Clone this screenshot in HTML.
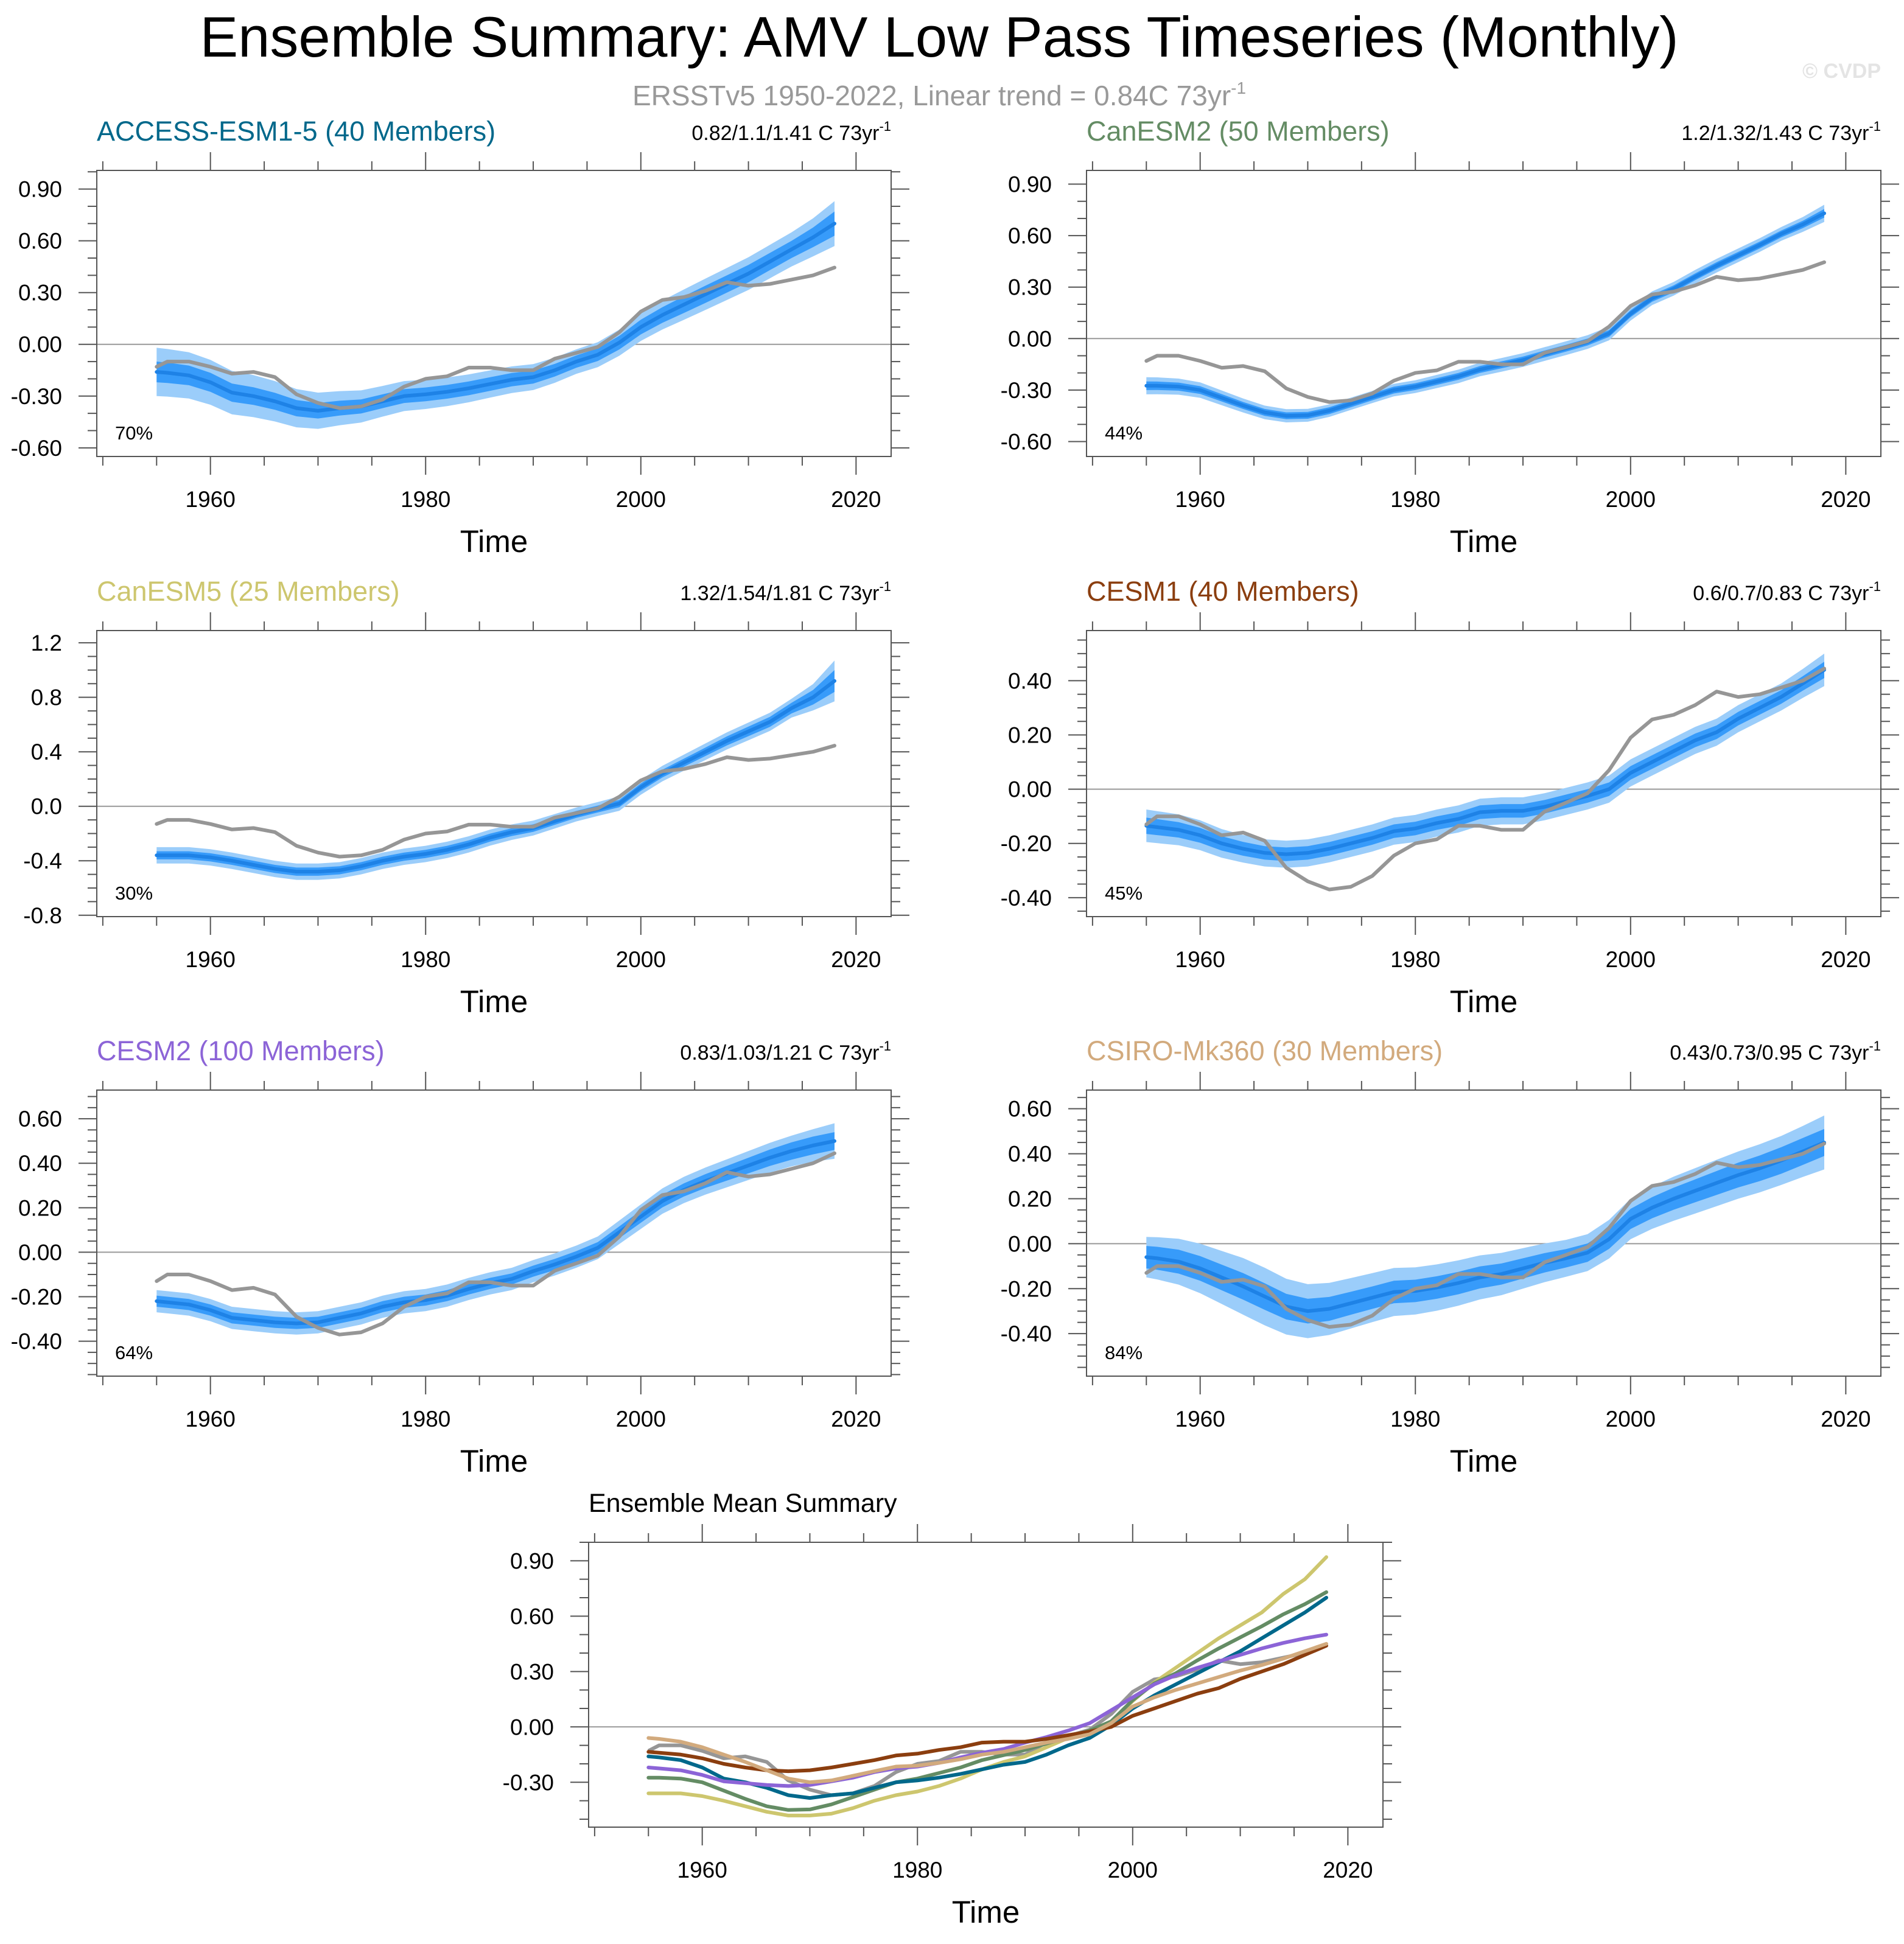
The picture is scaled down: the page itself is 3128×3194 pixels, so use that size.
<!DOCTYPE html>
<html><head><meta charset="utf-8"><style>
html,body{margin:0;padding:0;background:#fff;}
svg{display:block;font-family:"Liberation Sans",sans-serif;}
</style></head><body>
<svg id="chart" width="3128" height="3194" viewBox="0 0 3128 3194" xmlns="http://www.w3.org/2000/svg">
<rect width="3128" height="3194" fill="#fff"/>
<text x="1543" y="93" font-size="94" text-anchor="middle" fill="#000">Ensemble Summary: AMV Low Pass Timeseries (Monthly)</text>
<text x="1543" y="173" font-size="46" text-anchor="middle" fill="#999">ERSSTv5 1950-2022, Linear trend = 0.84C 73yr<tspan font-size="28" dy="-19">-1</tspan></text>
<text x="3090" y="128" font-size="34" font-weight="bold" text-anchor="end" fill="#e4e4e4">© CVDP</text>
<g id="panels"></g>
</svg>
<script>
// ---- data ----
const years = [1955,1956,1958,1960,1962,1964,1966,1968,1970,1972,1974,1976,1978,1980,1982,1984,1986,1988,1990,1992,1994,1996,1998,2000,2002,2004,2006,2008,2010,2012,2014,2016,2018];
const obsValues = [-0.13,-0.10,-0.10,-0.13,-0.17,-0.16,-0.19,-0.29,-0.34,-0.37,-0.36,-0.32,-0.245,-0.20,-0.185,-0.135,-0.135,-0.15,-0.15,-0.083,-0.05,-0.015,0.07,0.19,0.257,0.274,0.31,0.36,0.34,0.35,0.375,0.40,0.445];
const accessMean = [-0.16,-0.165,-0.18,-0.22,-0.28,-0.30,-0.33,-0.37,-0.385,-0.37,-0.36,-0.33,-0.30,-0.29,-0.275,-0.255,-0.23,-0.205,-0.19,-0.15,-0.10,-0.06,0.01,0.10,0.17,0.23,0.29,0.35,0.41,0.48,0.55,0.62,0.70];
const canesm2Mean = [-0.275,-0.275,-0.28,-0.30,-0.345,-0.39,-0.43,-0.45,-0.447,-0.42,-0.38,-0.34,-0.30,-0.28,-0.25,-0.22,-0.18,-0.153,-0.125,-0.09,-0.056,-0.02,0.03,0.145,0.235,0.29,0.36,0.425,0.485,0.545,0.61,0.665,0.73];
const canesm5Mean = [-0.36,-0.36,-0.36,-0.375,-0.40,-0.43,-0.46,-0.48,-0.48,-0.47,-0.44,-0.40,-0.37,-0.35,-0.32,-0.28,-0.23,-0.19,-0.16,-0.11,-0.06,-0.02,0.02,0.14,0.24,0.32,0.40,0.48,0.55,0.62,0.72,0.80,0.92];
const cesm1Mean = [-0.135,-0.14,-0.15,-0.17,-0.20,-0.22,-0.235,-0.24,-0.235,-0.22,-0.20,-0.18,-0.155,-0.145,-0.125,-0.11,-0.085,-0.08,-0.08,-0.065,-0.045,-0.025,0.00,0.06,0.10,0.14,0.18,0.21,0.26,0.30,0.34,0.39,0.44];
const cesm2Mean = [-0.22,-0.225,-0.235,-0.26,-0.295,-0.305,-0.315,-0.32,-0.315,-0.295,-0.275,-0.245,-0.225,-0.215,-0.195,-0.165,-0.14,-0.12,-0.085,-0.055,-0.02,0.02,0.09,0.16,0.23,0.28,0.32,0.355,0.39,0.425,0.455,0.48,0.50];
const csiroMean = [-0.06,-0.065,-0.08,-0.11,-0.15,-0.19,-0.235,-0.28,-0.30,-0.29,-0.265,-0.24,-0.215,-0.21,-0.195,-0.175,-0.15,-0.135,-0.11,-0.085,-0.065,-0.04,0.02,0.11,0.16,0.20,0.235,0.27,0.305,0.335,0.37,0.41,0.45];
// spread half-widths at band years
const bandYears = [1955,1965,1975,1985,1995,2005,2015,2018];
const accessOuter = [0.14,0.12,0.09,0.08,0.07,0.09,0.10,0.13];
const accessInner = [0.06,0.05,0.04,0.04,0.035,0.05,0.05,0.07];
const canesm2Outer = [0.05,0.04,0.035,0.04,0.04,0.04,0.04,0.05];
const canesm2Inner = [0.025,0.02,0.02,0.02,0.02,0.02,0.02,0.025];
const canesm5Outer = [0.06,0.06,0.06,0.06,0.05,0.06,0.07,0.15];
const canesm5Inner = [0.03,0.03,0.03,0.03,0.025,0.03,0.04,0.08];
const cesm1Outer = [0.06,0.05,0.05,0.05,0.05,0.05,0.05,0.06];
const cesm1Inner = [0.03,0.025,0.025,0.025,0.025,0.025,0.025,0.03];
const cesm2Outer = [0.05,0.05,0.05,0.05,0.05,0.06,0.07,0.08];
const cesm2Inner = [0.025,0.025,0.025,0.025,0.025,0.03,0.04,0.04];
const csiroOuter = [0.09,0.13,0.11,0.10,0.08,0.10,0.11,0.12];
const csiroInner = [0.05,0.06,0.05,0.05,0.04,0.05,0.06,0.06];
const modelNames = ["ACCESS-ESM1-5 (40 Members)","CanESM2 (50 Members)","CanESM5 (25 Members)","CESM1 (40 Members)","CESM2 (100 Members)","CSIRO-Mk360 (30 Members)"];
const trendLabels = ["0.82/1.1/1.41","1.2/1.32/1.43","1.32/1.54/1.81","0.6/0.7/0.83","0.83/1.03/1.21","0.43/0.73/0.95"];
const pctLabels = ["70%","44%","30%","45%","64%","84%"];
const xTickLabels = [1960,1980,2000,2020];

const means=[accessMean,canesm2Mean,canesm5Mean,cesm1Mean,cesm2Mean,csiroMean];
const outers=[accessOuter,canesm2Outer,canesm5Outer,cesm1Outer,cesm2Outer,csiroOuter];
const inners=[accessInner,canesm2Inner,canesm5Inner,cesm1Inner,cesm2Inner,csiroInner];
const colors=["rgb(0,104,139)","rgb(100,140,100)","rgb(205,198,110)","rgb(139,62,15)","rgb(140,100,215)","rgb(210,170,125)"];
const panelCfg=[
 {x:159,y:280,ymin:-0.65,ymax:1.008,t0:-0.6,t1:0.9,st:0.3,mn:3,d:2},
 {x:1785,y:280,ymin:-0.687,ymax:0.98,t0:-0.6,t1:0.9,st:0.3,mn:3,d:2},
 {x:159,y:1036,ymin:-0.81,ymax:1.29,t0:-0.8,t1:1.2,st:0.4,mn:4,d:1},
 {x:1785,y:1036,ymin:-0.47,ymax:0.585,t0:-0.4,t1:0.4,st:0.2,mn:4,d:2},
 {x:159,y:1791,ymin:-0.557,ymax:0.729,t0:-0.4,t1:0.6,st:0.2,mn:4,d:2},
 {x:1785,y:1791,ymin:-0.589,ymax:0.683,t0:-0.4,t1:0.6,st:0.2,mn:4,d:2}
];
const W=1305,H=470,XMIN=1949.44,XMAX=2023.26;
const NS="http://www.w3.org/2000/svg";
const root=document.getElementById('panels');
function mk(tag,attrs,parent){const e=document.createElementNS(NS,tag);for(const k in attrs)e.setAttribute(k,attrs[k]);parent.appendChild(e);return e;}
function interp(bx,by,x){for(let i=0;i<bx.length-1;i++){if(x<=bx[i+1]){const t=(x-bx[i])/(bx[i+1]-bx[i]);return by[i]+t*(by[i+1]-by[i]);}}return by[by.length-1];}

function axes(g,c,h){
  const sx=v=>c.x+(v-XMIN)/(XMAX-XMIN)*W;
  const sy=v=>c.y+(c.ymax-v)/(c.ymax-c.ymin)*h;
  const nMaj=Math.round((c.t1-c.t0)/c.st);
  const minStep=c.st/c.mn;
  for(let k=-c.mn;k<=(nMaj+1)*c.mn;k++){
    const v=c.t0+k*minStep; if(v<c.ymin-1e-9||v>c.ymax+1e-9)continue;
    const major=k%c.mn===0; const L=major?30:15; const y=sy(v);
    mk('line',{x1:c.x-L,y1:y,x2:c.x,y2:y,stroke:'#555','stroke-width':2},g);
    mk('line',{x1:c.x+W,y1:y,x2:c.x+W+L,y2:y,stroke:'#555','stroke-width':2},g);
    if(major){const t=mk('text',{x:c.x-57,y:y+13,'font-size':37,'text-anchor':'end',fill:'#000'},g);t.textContent=v.toFixed(c.d);
      
      }
  }
  for(let yr=1950;yr<=2020;yr+=5){
    const major=yr%20===0; const L=major?30:15; const x=sx(yr);
    mk('line',{x1:x,y1:c.y-L,x2:x,y2:c.y,stroke:'#555','stroke-width':2},g);
    mk('line',{x1:x,y1:c.y+h,x2:x,y2:c.y+h+L,stroke:'#555','stroke-width':2},g);
  }
  xTickLabels.forEach(yr=>{const t=mk('text',{x:sx(yr),y:c.y+h+83,'font-size':37,'text-anchor':'middle',fill:'#000'},g);t.textContent=yr;
    
    });
  const tl=mk('text',{x:c.x+W/2,y:c.y+h+157,'font-size':51,'text-anchor':'middle',fill:'#000'},g);tl.textContent='Time';
  
  
  const z=mk('line',{x1:c.x,y1:sy(0),x2:c.x+W,y2:sy(0),stroke:'#999','stroke-width':2},g);
  
  
  return {sx,sy};
}
function linePath(sx,sy,arr){return years.map((yr,i)=>(i?'L':'M')+sx(yr).toFixed(1)+','+sy(arr[i]).toFixed(1)).join(' ');}
function bandPath(sx,sy,mean,half){
  const up=years.map((yr,i)=>sx(yr).toFixed(1)+','+sy(mean[i]+interp(bandYears,half,yr)).toFixed(1));
  const lo=years.map((yr,i)=>sx(yr).toFixed(1)+','+sy(mean[i]-interp(bandYears,half,yr)).toFixed(1)).reverse();
  return 'M'+up.join(' L')+' L'+lo.join(' L')+' Z';
}

panelCfg.forEach((c,i)=>{
  const g=mk('g',{},root);
  
  
  const {sx,sy}=axes(g,c,H);
  const ob=mk('path',{d:bandPath(sx,sy,means[i],outers[i]),fill:'rgb(155,205,250)'},g);
  
  
  const ib=mk('path',{d:bandPath(sx,sy,means[i],inners[i]),fill:'rgb(55,155,250)'},g);
  
  
  const ml=mk('path',{d:linePath(sx,sy,means[i]),fill:'none',stroke:'rgb(30,130,230)','stroke-width':6,'stroke-linejoin':'round','stroke-linecap':'round'},g);
  
  
  const ol=mk('path',{d:linePath(sx,sy,obsValues),fill:'none',stroke:'rgb(150,150,150)','stroke-width':6,'stroke-linejoin':'round','stroke-linecap':'round'},g);
  
  
  const fr=mk('rect',{x:c.x,y:c.y,width:W,height:H,fill:'none',stroke:'#555','stroke-width':2},g);
  
  
  const tt=mk('text',{x:c.x,y:c.y-49,'font-size':45,fill:colors[i]},g);tt.textContent=modelNames[i];
  
  
  const tr=mk('text',{x:c.x+W,y:c.y-50,'font-size':34,'text-anchor':'end',fill:'#000'},g);
  tr.textContent=trendLabels[i]+' C 73yr';
  const sup=mk('tspan',{'font-size':22,dy:-15},tr);sup.textContent='-1';
  
  
  const pc=mk('text',{x:c.x+30,y:c.y+H-28,'font-size':31,fill:'#000'},g);pc.textContent=pctLabels[i];
  
  
});

// summary panel
(function(){
  const c={x:967,y:2534,ymin:-0.543,ymax:1.0,t0:-0.3,t1:0.9,st:0.3,mn:3,d:2};
  const h=468;
  const g=mk('g',{},root);
  
  
  const {sx,sy}=axes(g,c,h);
  const ol=mk('path',{d:linePath(sx,sy,obsValues),fill:'none',stroke:'rgb(150,150,150)','stroke-width':6,'stroke-linejoin':'round'},g);
  
  
  [2,1,0,4,3,5].forEach(i=>{
    const p=mk('path',{d:linePath(sx,sy,means[i]),fill:'none',stroke:colors[i],'stroke-width':6,'stroke-linejoin':'round','stroke-linecap':'round'},g);
    
    
  });
  const fr=mk('rect',{x:c.x,y:c.y,width:W,height:h,fill:'none',stroke:'#555','stroke-width':2},g);
  
  
  const tt=mk('text',{x:c.x,y:c.y-50,'font-size':43,fill:'#000'},g);tt.textContent='Ensemble Mean Summary';
  
  
})();
</script>
</body></html>
